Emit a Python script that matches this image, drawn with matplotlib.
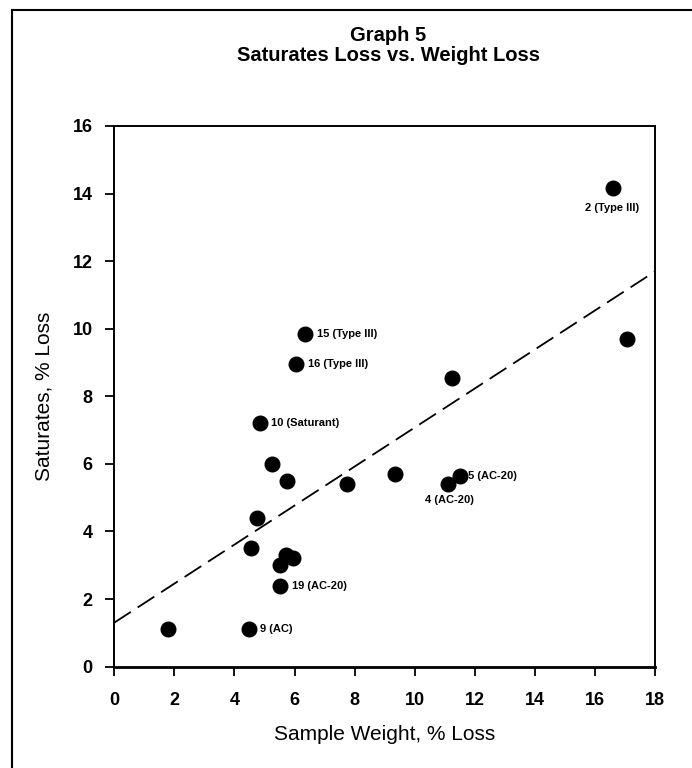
import matplotlib
matplotlib.use("Agg")
import matplotlib.pyplot as plt
from matplotlib.lines import Line2D

plt.rcParams['font.family'] = ['Liberation Sans', 'DejaVu Sans']

# sample data
weight_loss = [1.8, 4.5, 5.5, 5.5, 5.7, 5.95, 4.55, 4.75, 5.25, 5.75,
               4.85, 7.75, 9.35, 6.35, 6.05, 16.6, 17.05, 11.25, 11.1, 11.5]
saturates_loss = [1.1, 1.1, 2.4, 3.0, 3.3, 3.2, 3.5, 4.4, 6.0, 5.5,
                  7.2, 5.4, 5.7, 9.85, 8.95, 14.15, 9.7, 8.55, 5.4, 5.65]

# labelled points: index into the arrays above -> text
point_labels = {1: "9 (AC)", 2: "19 (AC-20)", 10: "10 (Saturant)",
                13: "15 (Type III)", 14: "16 (Type III)", 15: "2 (Type III)",
                18: "4 (AC-20)", 19: "5 (AC-20)"}

# dashed trend line end points
trend_x = [0, 18]
trend_y = [1.3, 11.7]

fig = plt.figure(figsize=(6.92, 7.68), dpi=100)
ax = fig.add_axes([0.165, 0.132, 0.782, 0.704])

ax.plot(trend_x, trend_y, color="black", lw=1.3, dashes=(11, 4.5))
ax.plot(weight_loss, saturates_loss, "o", color="black", ms=10.5, zorder=3)

# where each label sits relative to its dot (pixels)
offsets = {1: (11, 0, "left"), 2: (12, 0, "left"), 10: (11, 0, "left"),
           13: (12, 0, "left"), 14: (12, 0, "left"), 15: (-1, -20, "center"),
           18: (2, -16, "center"), 19: (8, 0, "left")}
for i, txt in point_labels.items():
    dx, dy, ha = offsets[i]
    ax.annotate(txt, (weight_loss[i], saturates_loss[i]), xytext=(dx, dy),
                textcoords="offset pixels", ha=ha, va="center",
                fontsize=8, fontweight="bold")

ax.set_xlim(0, 18)
ax.set_ylim(0, 16)
ax.set_xticks(range(0, 19, 2))
ax.set_yticks(range(0, 17, 2))
ax.tick_params(direction="out", length=6.5, width=1.3, labelsize=13)
ax.tick_params(axis="x", pad=12)
ax.tick_params(axis="y", pad=9)
for lab in ax.get_xticklabels() + ax.get_yticklabels():
    lab.set_fontweight("bold")
for sp in ax.spines.values():
    sp.set_linewidth(1.4)
ax.spines["bottom"].set_linewidth(2)

ax.set_xlabel("Sample Weight, % Loss", fontsize=15)
ax.set_ylabel("Saturates, % Loss", fontsize=15)
ax.xaxis.set_label_coords(0.5, -0.108)
ax.yaxis.set_label_coords(-0.112, 0.5)

fig.text(0.561, 0.946, "Graph 5", ha="center", va="baseline",
         fontsize=14.5, fontweight="bold")
fig.text(0.561, 0.920, "Saturates Loss vs. Weight Loss", ha="center",
         va="baseline", fontsize=14.5, fontweight="bold")

# page frame from the scan
fig.add_artist(Line2D([12 / 692, 12 / 692], [0, 1 - 10 / 768], color="black",
                      lw=1.5, transform=fig.transFigure))
fig.add_artist(Line2D([12 / 692, 1], [1 - 10 / 768, 1 - 10 / 768], color="black",
                      lw=1.5, transform=fig.transFigure))

fig.savefig("out.png", dpi=100)
